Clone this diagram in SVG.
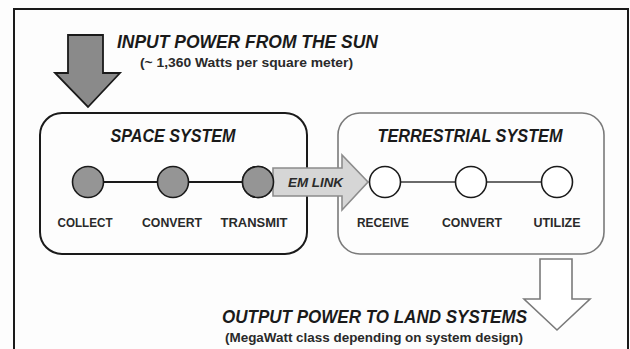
<svg xmlns="http://www.w3.org/2000/svg" width="630" height="349" viewBox="0 0 630 349">
<style>
text{font-family:"Liberation Sans",Arial,sans-serif;font-weight:bold;fill:#1a1a1a}
.title{font-style:italic;font-size:18.5px}
.sub{font-size:12.5px;fill:#2a2a2a}
.lbl{font-size:13px;fill:#2a2a2a}
.cs{fill:#959595;stroke:#1a1a1a;stroke-width:1.6}
.ct{fill:#ffffff;stroke:#1a1a1a;stroke-width:1.6}
</style>
<rect x="0" y="0" width="630" height="349" fill="#fdfdfd"/>
<rect x="14" y="9" width="614" height="360" fill="none" stroke="#1a1a1a" stroke-width="2"/>
<g id="input-arrow">
<polygon points="68,35 103,35 103,73 120,73 88,107 55,73 68,73" fill="#8a8a8a" stroke="#1a1a1a" stroke-width="1.8" stroke-linejoin="miter"/>
</g>
<g id="input-text">
<text class="title" x="117" y="48" textLength="261" lengthAdjust="spacingAndGlyphs">INPUT POWER FROM THE SUN</text>
<text class="sub" x="140" y="67" textLength="213" lengthAdjust="spacingAndGlyphs">(~ 1,360 Watts per square meter)</text>
</g>
<g id="space-system">
<rect x="40" y="113" width="267" height="141" rx="22" fill="none" stroke="#1a1a1a" stroke-width="2"/>
<text class="title" x="173" y="142" text-anchor="middle" textLength="125" lengthAdjust="spacingAndGlyphs">SPACE SYSTEM</text>
</g>
<g id="terrestrial-system">
<rect x="338" y="113" width="266" height="141" rx="22" fill="none" stroke="#7a7a7a" stroke-width="1.6"/>
<text class="title" x="470" y="142" text-anchor="middle" textLength="185" lengthAdjust="spacingAndGlyphs">TERRESTRIAL SYSTEM</text>
</g>
<g id="connectors">
<line x1="88" y1="182" x2="258" y2="182" stroke="#1a1a1a" stroke-width="1.8"/>
<line x1="385" y1="182" x2="557" y2="182" stroke="#6a6a6a" stroke-width="1.8"/>
</g>
<g id="collect">
<circle class="cs" cx="88" cy="182" r="15.5"/>
<text class="lbl" x="85" y="227" text-anchor="middle" textLength="55" lengthAdjust="spacingAndGlyphs">COLLECT</text>
</g>
<g id="convert-space">
<circle class="cs" cx="173" cy="182" r="15.5"/>
<text class="lbl" x="172" y="227" text-anchor="middle" textLength="60" lengthAdjust="spacingAndGlyphs">CONVERT</text>
</g>
<g id="transmit">
<circle class="cs" cx="258" cy="182" r="15.5"/>
<text class="lbl" x="254" y="227" text-anchor="middle" textLength="67" lengthAdjust="spacingAndGlyphs">TRANSMIT</text>
</g>
<g id="em-link">
<polygon points="273,168 342,168 342,155 368,182 342,210 342,196 273,196" fill="#d6d6d6" stroke="#8c8c8c" stroke-width="1.6"/>
<circle class="cs" cx="258" cy="182" r="15.5"/>
<text class="lbl" style="font-style:italic;font-size:13px" x="288" y="186.5" textLength="55" lengthAdjust="spacingAndGlyphs">EM LINK</text>
</g>
<g id="receive">
<circle class="ct" cx="385" cy="182" r="15.5"/>
<text class="lbl" x="383" y="227" text-anchor="middle" textLength="52" lengthAdjust="spacingAndGlyphs">RECEIVE</text>
</g>
<g id="convert-terrestrial">
<circle class="ct" cx="471" cy="182" r="15.5"/>
<text class="lbl" x="472" y="227" text-anchor="middle" textLength="60" lengthAdjust="spacingAndGlyphs">CONVERT</text>
</g>
<g id="utilize">
<circle class="ct" cx="557" cy="182" r="15.5"/>
<text class="lbl" x="557" y="227" text-anchor="middle" textLength="47" lengthAdjust="spacingAndGlyphs">UTILIZE</text>
</g>
<g id="output-arrow">
<polygon points="540,259 572,259 572,299 590,299 557,330 524,299 540,299" fill="#ffffff" stroke="#7a7a7a" stroke-width="1.6"/>
</g>
<g id="output-text">
<text class="title" x="222" y="323" textLength="305" lengthAdjust="spacingAndGlyphs">OUTPUT POWER TO LAND SYSTEMS</text>
<text class="sub" x="225" y="342" textLength="298" lengthAdjust="spacingAndGlyphs">(MegaWatt class depending on system design)</text>
</g>
</svg>
